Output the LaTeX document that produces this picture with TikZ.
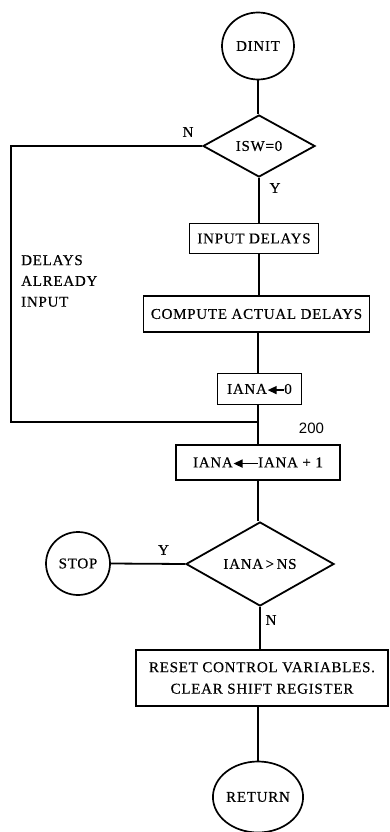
\documentclass[tikz,border=0pt]{standalone}
\usepackage{fontspec}
\setmainfont{Liberation Serif}[LetterSpace=5,FakeBold=0.4]
\newfontfamily\labsans{Liberation Sans}
\usetikzlibrary{shapes.geometric,arrows.meta}
\newcommand{\asgarrow}[1]{\tikz[baseline=-0.55ex]\draw[line width=1.4pt,-{Triangle[length=9pt,width=8pt]}] (#1,0pt) -- (0pt,0pt);}
\begin{document}
\begin{tikzpicture}[x=1pt,y=-1pt,
  every node/.style={font=\fontsize{15}{18}\selectfont},
  conn/.style={line width=1.8pt},
  term/.style={draw,ellipse,line width=1.7pt,inner sep=0pt},
  decision/.style={draw,diamond,aspect=2,line width=1.8pt,inner sep=0pt},
  procbox/.style={draw,rectangle,line width=1.9pt,inner sep=0pt,align=center},
  lbl/.style={inner sep=0pt}]
\useasboundingbox (0,0) rectangle (389,832);

\node[term,minimum width=72pt,minimum height=67pt] (dinit) at (258,46) {DINIT};
\node[decision,minimum width=112pt,minimum height=62pt] (isw) at (259,146) {ISW=0};
\node[procbox,minimum width=129pt,minimum height=30pt] (input) at (254,238.5) {INPUT DELAYS};
\node[procbox,minimum width=226pt,minimum height=36pt] (compute) at (256.5,314) {COMPUTE ACTUAL DELAYS};
\node[procbox,minimum width=84pt,minimum height=31pt] (iana0) at (259.5,389) {IANA\asgarrow{16pt}0};
\node[procbox,minimum width=164pt,minimum height=35pt] (inc) at (258,462.5) {IANA\asgarrow{24pt}IANA + 1};
\node[decision,minimum width=148pt,minimum height=84pt] (ns) at (260,564) {IANA\,>\,NS};
\node[term,minimum width=64pt,minimum height=63pt] (stop) at (78,563.5) {STOP};
\node[procbox,minimum width=252pt,minimum height=56pt,font=\fontsize{15}{21.5}\selectfont] (reset) at (262,678) {RESET CONTROL VARIABLES.\\CLEAR SHIFT REGISTER};
\node[term,minimum width=78pt,minimum height=71pt] (ret) at (258,797) {RETURN};

\coordinate (lc) at (11,422);
\coordinate (merge) at (258,422);

\draw[conn] (dinit.south) -- (dinit.south |- isw.north);
\draw[conn] (isw.south) -- (isw.south |- input.north);
\draw[conn] (isw.south |- input.south) -- (isw.south |- compute.north);
\draw[conn] (merge |- compute.south) -- (merge |- iana0.north);
\draw[conn] (merge |- iana0.south) -- (merge |- inc.north);
\draw[conn] (isw.west) -| (lc) -- (merge);
\draw[conn] (merge |- inc.south) -- (merge |- ns.north);
\draw[conn] (ns.west) -- (stop.east);
\draw[conn] (ns.south) -- (ns.south |- reset.north);
\draw[conn] (ret.north |- reset.south) -- (ret.north);

\node[lbl] (nlab1) at (188,132) {N};
\node[lbl] (ylab1) at (275,188) {Y};
\node[lbl,anchor=west,align=left,font=\fontsize{15}{20.8}\selectfont] (already) at (21,281) {DELAYS\\ALREADY\\INPUT};
\node[lbl,font=\labsans\fontsize{15}{18}\selectfont] (l200) at (311.5,428.5) {200};
\node[lbl] (ylab2) at (163.5,550) {Y};
\node[lbl] (nlab2) at (271,620) {N};
\end{tikzpicture}
\end{document}
